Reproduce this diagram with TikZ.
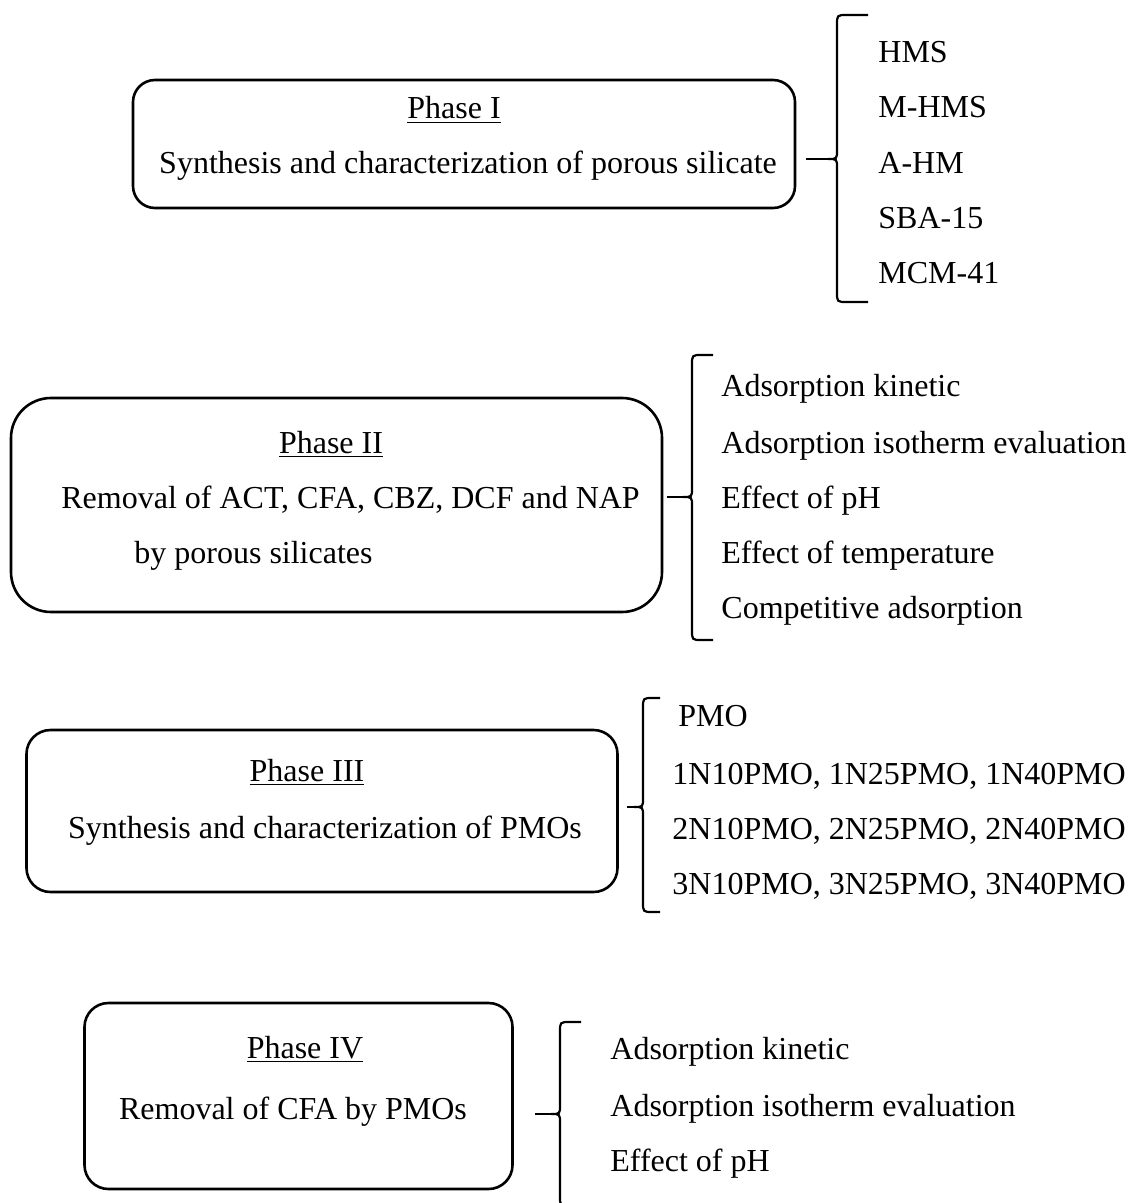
\documentclass[tikz,border=0pt]{standalone}
\usepackage{fontspec}
\setmainfont{Liberation Serif}
\begin{document}
\begin{tikzpicture}[x=0.5pt,y=-0.5pt,
  phasebox/.style={draw,line width=1.3pt,rounded corners=#1,inner sep=0pt},
  phasebox/.default=11pt,
  txt/.style={font=\fontsize{16pt}{19pt}\selectfont,inner sep=0pt,anchor=base},
  ltxt/.style={font=\fontsize{16pt}{19pt}\selectfont,inner sep=0pt,anchor=base west},
  bracepath/.style={draw,line width=1.1pt}]
\useasboundingbox (0,0) rectangle (1128,1203);
\clip (0,0) rectangle (1128,1203);
% brace macro: #1 x of vertical, #2 top, #3 mid, #4 bottom, #5 tip x, #6 end x, #7 name
\newcommand\mybrace[7]{%
  \coordinate (#7tip) at (#5,#3);
  \draw[bracepath] (#6,#2) -- (#1+10,#2) .. controls (#1,#2) .. (#1,#2+10)
     -- (#1,#3-9) .. controls (#1,#3) .. (#1-9,#3)
     .. controls (#1,#3) .. (#1,#3+9) -- (#1,#4-10)
     .. controls (#1,#4) .. (#1+10,#4) -- (#6,#4);
  \draw[bracepath] (#7tip) -- (#1-9,#3);
}
% Phase I
\node[phasebox, minimum width=331pt, minimum height=64pt] (b1) at (464,144) {};
\node[txt] (p1) at (454,119) {\underline{Phase I}};
\node[txt] (s1) at (468,174) {Synthesis and characterization of porous silicate};
\mybrace{837}{15}{159}{302}{806}{868}{br1}
\node[ltxt] (i1a) at (878,63) {HMS};
\node[ltxt] (i1b) at (878,118) {M-HMS};
\node[ltxt] (i1c) at (878,174) {A-HM};
\node[ltxt] (i1d) at (878,229) {SBA-15};
\node[ltxt] (i1e) at (878,284) {MCM-41};
% Phase II
\node[phasebox=20pt, minimum width=325.5pt, minimum height=107pt] (b2) at (336.5,505) {};
\node[txt] (p2) at (331,453) {\underline{Phase II}};
\node[ltxt] (s2a) at (61,508) {Removal of ACT, CFA, CBZ, DCF and NAP};
\node[ltxt] (s2b) at (134,563) {by porous silicates};
\mybrace{692}{355}{497}{640}{667}{713}{br2}
\node[ltxt] (i2a) at (721,396) {Adsorption kinetic};
\node[ltxt] (i2b) at (721,453) {Adsorption isotherm evaluation};
\node[ltxt] (i2c) at (721,508) {Effect of pH};
\node[ltxt] (i2d) at (721,563) {Effect of temperature};
\node[ltxt] (i2e) at (721,618) {Competitive adsorption};
% Phase III
\node[phasebox=12pt, minimum width=295.5pt, minimum height=81pt] (b3) at (322,811) {};
\node[txt] (p3) at (307,781) {\underline{Phase III}};
\node[txt] (s3) at (325,838) {Synthesis and characterization of PMOs};
\mybrace{643}{698}{807}{912}{627}{660}{br3}
\node[ltxt] (i3a) at (678,726) {PMO};
\node[ltxt] (i3b) at (672,784) {1N10PMO, 1N25PMO, 1N40PMO};
\node[ltxt] (i3c) at (672,839) {2N10PMO, 2N25PMO, 2N40PMO};
\node[ltxt] (i3d) at (672,894) {3N10PMO, 3N25PMO, 3N40PMO};
% Phase IV
\node[phasebox=12pt, minimum width=214pt, minimum height=93pt] (b4) at (298.5,1096) {};
\node[txt] (p4) at (305,1058) {\underline{Phase IV}};
\node[txt] (s4) at (293,1119) {Removal of CFA by PMOs};
\mybrace{560}{1022}{1114}{1206}{535}{581}{br4}
\node[ltxt] (i4a) at (610,1059) {Adsorption kinetic};
\node[ltxt] (i4b) at (610,1116) {Adsorption isotherm evaluation};
\node[ltxt] (i4c) at (610,1171) {Effect of pH};
\end{tikzpicture}
\end{document}
